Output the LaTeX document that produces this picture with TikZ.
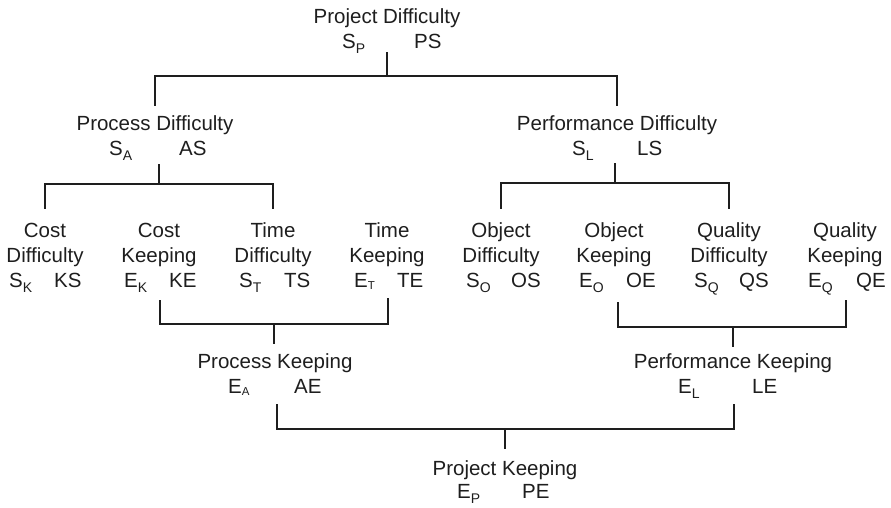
\documentclass[tikz,border=0pt]{standalone}
\usepackage{fontspec}
\setmainfont{Liberation Sans}
\definecolor{ink}{HTML}{1E1E1E}
% lowered subscripts for the symbols
\newcommand{\sbs}[1]{\raisebox{-5pt}{\fontsize{14}{14}\selectfont #1}}
\newcommand{\sbt}[1]{\raisebox{-2.5pt}{\fontsize{11.5}{12}\selectfont #1}}
\begin{document}
\begin{tikzpicture}[x=1pt,y=-1pt,
  lbl/.style={inner sep=0pt, anchor=base, font=\fontsize{20.5}{25}\selectfont, text=ink},
  sym/.style={lbl, anchor=base west},
  conn/.style={draw=ink, line width=1.3pt}]
\useasboundingbox (0,0) rectangle (891,507);

% ---- top level: project difficulty
\node[lbl] (PD)  at (387,23.5) {Project Difficulty};
\node[sym] (PDs) at (342,48.5) {S\sbs{P}};
\node[sym] (PDa) at (414,48.5) {PS};

% ---- second level
\node[lbl] (PrD)  at (155,130) {Process Difficulty};
\node[sym] (PrDs) at (109,155) {S\sbs{A}};
\node[sym] (PrDa) at (179,155) {AS};

\node[lbl] (PfD)  at (617,130) {Performance Difficulty};
\node[sym] (PfDs) at (572,155) {S\sbs{L}};
\node[sym] (PfDa) at (637,155) {LS};

% ---- leaves
\node[lbl] (CD1) at (45,237) {Cost};
\node[lbl] (CD2) at (45,262) {Difficulty};
\node[sym] (CDs) at (9,287) {S\sbs{K}};
\node[sym] (CDa) at (54,287) {KS};

\node[lbl] (CK1) at (159,237) {Cost};
\node[lbl] (CK2) at (159,262) {Keeping};
\node[sym] (CKs) at (124,287) {E\sbs{K}};
\node[sym] (CKa) at (169,287) {KE};

\node[lbl] (TD1) at (273,237) {Time};
\node[lbl] (TD2) at (273,262) {Difficulty};
\node[sym] (TDs) at (239,287) {S\sbs{T}};
\node[sym] (TDa) at (284,287) {TS};

\node[lbl] (TK1) at (387,237) {Time};
\node[lbl] (TK2) at (387,262) {Keeping};
\node[sym] (TKs) at (354,287) {E\sbt{T}};
\node[sym] (TKa) at (397,287) {TE};

\node[lbl] (OD1) at (501,237) {Object};
\node[lbl] (OD2) at (501,262) {Difficulty};
\node[sym] (ODs) at (466,287) {S\sbs{O}};
\node[sym] (ODa) at (511,287) {OS};

\node[lbl] (OK1) at (614,237) {Object};
\node[lbl] (OK2) at (614,262) {Keeping};
\node[sym] (OKs) at (579,287) {E\sbs{O}};
\node[sym] (OKa) at (626,287) {OE};

\node[lbl] (QD1) at (729,237) {Quality};
\node[lbl] (QD2) at (729,262) {Difficulty};
\node[sym] (QDs) at (694,287) {S\sbs{Q}};
\node[sym] (QDa) at (739,287) {QS};

\node[lbl] (QK1) at (845,237) {Quality};
\node[lbl] (QK2) at (845,262) {Keeping};
\node[sym] (QKs) at (808,287) {E\sbs{Q}};
\node[sym] (QKa) at (856,287) {QE};

% ---- keeping aggregates
\node[lbl] (PK)  at (275,368) {Process Keeping};
\node[sym] (PKs) at (228,393) {E\sbt{A}};
\node[sym] (PKa) at (294,393) {AE};

\node[lbl] (PfK)  at (733,368) {Performance Keeping};
\node[sym] (PfKs) at (678,393) {E\sbs{L}};
\node[sym] (PfKa) at (752,393) {LE};

\node[lbl] (PjK)  at (505,475) {Project Keeping};
\node[sym] (PjKs) at (457,498) {E\sbs{P}};
\node[sym] (PjKa) at (522,498) {PE};

% ---- difficulty tree (branching downwards)
\coordinate (s1) at (387,52);  \coordinate (b1) at (387,76);
\draw[conn] (s1) -- (b1);
\draw[conn, shorten >=9pt] (b1) -| (PrD.north);
\draw[conn, shorten >=9pt] (b1) -| (PfD.north);

\coordinate (s2) at (159,164); \coordinate (b2) at (159,184);
\draw[conn] (s2) -- (b2);
\draw[conn, shorten >=13pt] (b2) -| (CD1.north);
\draw[conn, shorten >=13pt] (b2) -| (TD1.north);

\coordinate (s3) at (615,163); \coordinate (b3) at (615,183);
\draw[conn] (s3) -- (b3);
\draw[conn, shorten >=13pt] (b3) -| (OD1.north);
\draw[conn, shorten >=13pt] (b3) -| (QD1.north);

% ---- keeping tree (merging downwards)
\coordinate (m1) at (160,300); \coordinate (m2) at (388,298); \coordinate (b4) at (274,324);
\draw[conn] (m1) |- (b4) -| (m2);
\draw[conn, shorten >=9pt] (b4) -- (b4 |- PK.north);

\coordinate (m3) at (618,302); \coordinate (m4) at (846,300); \coordinate (b5) at (733,327);
\draw[conn] (m3) |- (b5) -| (m4);
\draw[conn, shorten >=6pt] (b5) -- (b5 |- PfK.north);

\coordinate (m5) at (277,404); \coordinate (m6) at (734,404); \coordinate (b6) at (505,429);
\draw[conn] (m5) |- (b6) -| (m6);
\draw[conn, shorten >=11pt] (b6) -- (b6 |- PjK.north);
\end{tikzpicture}
\end{document}
